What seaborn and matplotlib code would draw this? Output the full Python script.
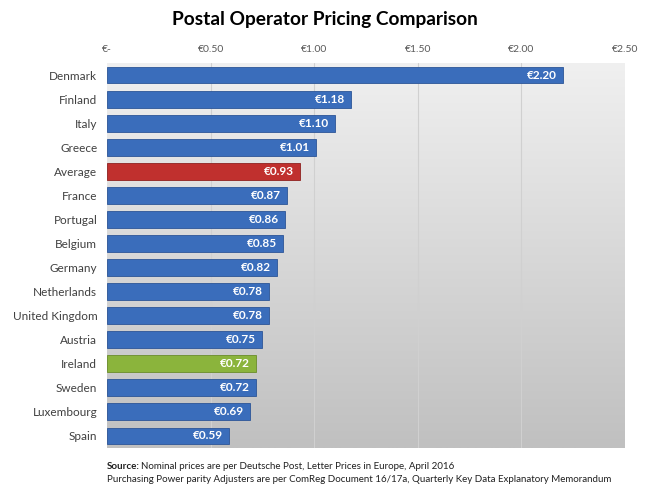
import numpy as np
import pandas as pd
import matplotlib
matplotlib.use("Agg")
import matplotlib.pyplot as plt
import seaborn as sns
from matplotlib.colors import LinearSegmentedColormap

countries = ["Denmark", "Finland", "Italy", "Greece", "Average", "France", "Portugal",
             "Belgium", "Germany", "Netherlands", "United Kingdom", "Austria", "Ireland",
             "Sweden", "Luxembourg", "Spain"]
prices = [2.20, 1.18, 1.10, 1.01, 0.93, 0.87, 0.86, 0.85, 0.82, 0.78, 0.78, 0.75, 0.72,
          0.72, 0.69, 0.59]
tick_values = [0, 0.5, 1.0, 1.5, 2.0, 2.5]
tick_labels = ["€-", "€0.50", "€1.00", "€1.50", "€2.00", "€2.50"]

BLUE = "#3a6dbb"
RED = "#c0302e"
GREEN = "#8bb43c"
colors = [RED if c == "Average" else GREEN if c == "Ireland" else BLUE for c in countries]

df = pd.DataFrame({"country": countries, "price": prices})

sns.set_theme(style="white")
plt.rcParams["font.family"] = ["Lato", "DejaVu Sans"]

fig = plt.figure(figsize=(6.5, 4.9), dpi=100)
ax = fig.add_axes([107/650, 1-448/490, 518/650, 385/490])

# gradient background
grad = np.linspace(0, 1, 256).reshape(-1, 1)
cmap = LinearSegmentedColormap.from_list("bg", ["#f0f0f0", "#c0c0c0"])
ax.imshow(grad, aspect="auto", cmap=cmap, extent=[0, 2.5, 15.5, -0.5], zorder=0)

sns.barplot(data=df, x="price", y="country", hue="country", palette=colors,
            legend=False, width=0.7, ax=ax, saturation=1,
            linewidth=0.6, zorder=3)
for p, c in zip(ax.patches, colors):
    p.set_edgecolor({BLUE: "#2c5597", RED: "#8e2220", GREEN: "#6a8c2a"}[c])

ax.set_xlim(0, 2.5)
ax.set_ylim(15.5, -0.5)
ax.set_xticks(tick_values)
ax.set_xticklabels(tick_labels)
ax.xaxis.tick_top()
ax.tick_params(axis="x", length=0, pad=6.5, labelsize=7.5, labelcolor="#595959")
ax.tick_params(axis="y", length=0, pad=7, labelsize=8.5, labelcolor="#404040")
ax.set_xlabel("")
ax.set_ylabel("")
for x in tick_values[1:-1]:
    ax.axvline(x, color="#d0d0d0", lw=0.8, zorder=1)
for s in ax.spines.values():
    s.set_visible(False)

for i, v in enumerate(prices):
    ax.text(v - 0.03, i, f"€{v:.2f}", ha="right", va="center", color="white",
            fontsize=8.5, fontweight="bold", zorder=5)

fig.text(0.5, 1-20/490, "Postal Operator Pricing Comparison", ha="center", va="center",
         fontsize=13.8, fontweight="bold", color="black")

fig.text(107/650, 1-466/490, "Source:", ha="left", va="center", fontsize=7,
         fontweight="bold", color="#202020")
fig.text(141/650, 1-466/490, "Nominal prices are per Deutsche Post, Letter Prices in Europe, April 2016",
         ha="left", va="center", fontsize=7, color="#202020")
fig.text(107/650, 1-479/490,
         "Purchasing Power parity Adjusters are per ComReg Document 16/17a, Quarterly Key Data Explanatory Memorandum",
         ha="left", va="center", fontsize=7, color="#202020")

fig.savefig("out.png", dpi=100)
